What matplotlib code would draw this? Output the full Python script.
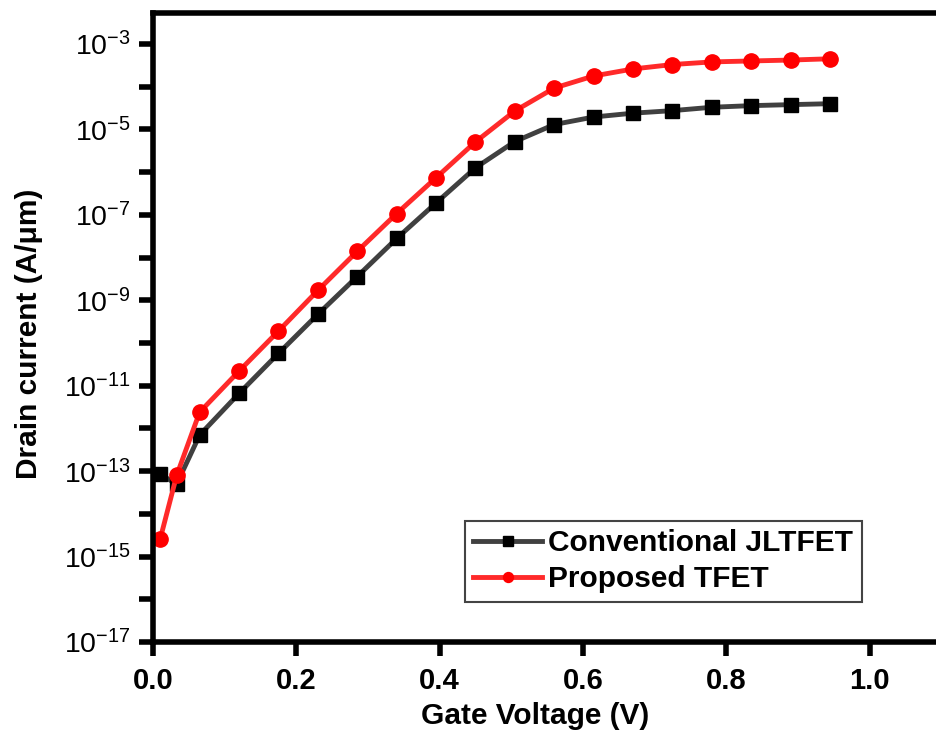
import numpy as np
import matplotlib
matplotlib.use('Agg')
import matplotlib.pyplot as plt

plt.rcParams['font.family'] = ['Liberation Sans', 'DejaVu Sans']
plt.rcParams['mathtext.fontset'] = 'custom'
plt.rcParams['mathtext.rm'] = 'Liberation Sans'
plt.rcParams['mathtext.it'] = 'Liberation Sans:italic'
plt.rcParams['mathtext.bf'] = 'Liberation Sans:bold'

# gate voltage (V)
vg = [0.01, 0.033, 0.065, 0.12, 0.175, 0.23, 0.285, 0.34, 0.395, 0.45,
      0.505, 0.56, 0.615, 0.67, 0.725, 0.78, 0.835, 0.89, 0.945]

# drain current (A/um)
conv_jltfet = [8.5e-14, 5e-14, 7e-13, 6.6e-12, 5.7e-11, 4.7e-10, 3.6e-9,
               2.8e-8, 1.9e-7, 1.26e-6, 5.2e-6, 1.3e-5, 1.95e-5, 2.4e-5,
               2.75e-5, 3.3e-5, 3.6e-5, 3.8e-5, 4.0e-5]
prop_tfet = [2.6e-15, 8e-14, 2.4e-12, 2.2e-11, 1.9e-10, 1.7e-9, 1.4e-8,
             1.07e-7, 7.4e-7, 5.1e-6, 2.7e-5, 9.3e-5, 1.78e-4, 2.6e-4,
             3.3e-4, 3.8e-4, 4.0e-4, 4.2e-4, 4.5e-4]

xticks = [0.0, 0.2, 0.4, 0.6, 0.8, 1.0]
ymajor = [1e-17, 1e-15, 1e-13, 1e-11, 1e-9, 1e-7, 1e-5, 1e-3]
yminor = [1e-16, 1e-14, 1e-12, 1e-10, 1e-8, 1e-6, 1e-4]

fig = plt.figure(figsize=(9.36, 7.33), dpi=100)
ax = fig.add_axes([0.1635, 0.124, 0.842, 0.858])

ax.plot(vg, conv_jltfet, color='#404040', lw=3.5, marker='s', ms=10.5,
        mfc='black', mec='black', label='Conventional JLTFET')
ax.plot(vg, prop_tfet, color='#ff2a2a', lw=3.5, marker='o', ms=11,
        mfc='#ff0000', mec='#ff0000', label='Proposed TFET')

ax.set_yscale('log')
ax.set_xlim(0, 1.1)
ax.set_ylim(1e-17, 10**-2.28)
ax.set_xticks(xticks)
ax.set_xticklabels(['%.1f' % v for v in xticks], fontweight='bold', fontsize=21)
ax.set_yticks(ymajor)
ax.set_yticklabels([r'$10^{%d}$' % int(np.log10(v)) for v in ymajor], fontsize=20.5)
ax.set_yticks(yminor, minor=True)
ax.set_yticklabels([], minor=True)

ax.tick_params(axis='both', which='both', direction='out', length=10, width=4)
ax.tick_params(axis='x', pad=8)
ax.tick_params(axis='y', pad=6)

for side in ['left', 'bottom', 'top', 'right']:
    ax.spines[side].set_linewidth(4)

ax.set_xlabel('Gate Voltage (V)', fontsize=21.5, fontweight='bold')
ax.set_ylabel('Drain current (A/\u03bcm)', fontsize=21.5, fontweight='bold')
ax.xaxis.set_label_coords(0.485, -0.095)
ax.yaxis.set_label_coords(-0.14, 0.49)

leg = ax.legend(loc='lower left', bbox_to_anchor=(0.396, 0.064),
                markerscale=0.65, handlelength=2.3,
                handletextpad=0.2, borderpad=0.28, labelspacing=0.27,
                borderaxespad=0, fancybox=False, framealpha=1,
                prop={'weight': 'bold', 'size': 21.5})
leg.get_frame().set_edgecolor('#444444')
leg.get_frame().set_linewidth(1.5)

fig.savefig('out.png', dpi=100)
